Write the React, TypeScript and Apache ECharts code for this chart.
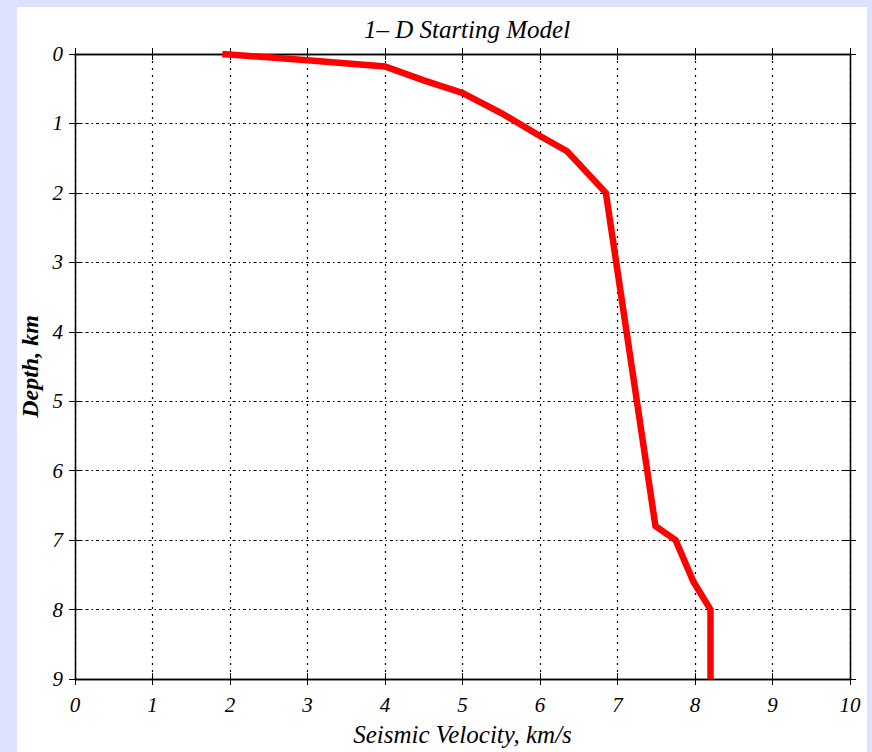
import React, { useEffect, useRef } from "react";
import * as echarts from "echarts";

const velocity = [1.9, 3.0, 4.0, 4.5, 5.0, 5.5, 6.0, 6.35, 6.85, 7.49, 7.75, 7.98, 8.2, 8.2];
const depth = [0.0, 0.09, 0.18, 0.38, 0.56, 0.85, 1.18, 1.4, 2.0, 6.8, 7.0, 7.6, 8.0, 9.0];
const xTicks = [0, 10];
const yTicks = [0, 9];
const titleText = "1\u2013 D Starting Model";
const xName = "Seismic Velocity, km/s";
const yName = "Depth, km";

const FONT = "'Liberation Serif', 'DejaVu Serif', serif";

export default function App() {
  const ref = useRef<HTMLDivElement>(null);
  useEffect(() => {
    if (!ref.current) return;
    const chart = echarts.init(ref.current, null, { renderer: "svg" });
    const labelStyle = {
      fontFamily: FONT,
      fontStyle: "italic",
      fontWeight: "normal",
      fontSize: 21,
      color: "#000",
    };
    const tickLine = { lineStyle: { color: "#000", width: 1 } };
    const baseX = (pos: string, inside: boolean, showLabel: boolean, extra: any = {}) => ({
      type: "value",
      gridIndex: 0,
      position: pos,
      min: xTicks[0],
      max: xTicks[1],
      interval: 1,
      axisLine: { show: true, onZero: false, lineStyle: { color: "#000", width: 1.3 } },
      axisTick: { show: true, inside, length: 6, ...tickLine },
      axisLabel: showLabel
        ? { show: true, margin: 15, ...labelStyle }
        : { show: false },
      splitLine: { show: false },
      ...extra,
    });
    const baseY = (pos: string, inside: boolean, showLabel: boolean, extra: any = {}) => ({
      type: "value",
      gridIndex: 0,
      position: pos,
      inverse: true,
      min: yTicks[0],
      max: yTicks[1],
      interval: 1,
      axisLine: { show: true, onZero: false, lineStyle: { color: "#000", width: 1.3 } },
      axisTick: { show: true, inside, length: 6, ...tickLine },
      axisLabel: showLabel
        ? { show: true, margin: 12, ...labelStyle }
        : { show: false },
      splitLine: { show: false },
      ...extra,
    });
    const option: any = {
      animation: false,
      backgroundColor: "#dce2ff",
      graphic: [
        {
          type: "rect",
          z: -10,
          silent: true,
          shape: { x: 17, y: 7, width: 850, height: 760 },
          style: { fill: "#ffffff" },
        },
      ],
      title: {
        text: titleText,
        left: 462,
        top: 12,
        textAlign: "center",
        textStyle: {
          fontFamily: FONT,
          fontStyle: "italic",
          fontWeight: "normal",
          fontSize: 25,
          color: "#000",
        },
      },
      grid: { left: 75, right: 22, top: 54, bottom: 73, containLabel: false },
      xAxis: [
        baseX("bottom", false, true, {
          name: xName,
          nameLocation: "middle",
          nameGap: 43,
          nameTextStyle: {
            fontFamily: FONT,
            fontStyle: "italic",
            fontWeight: "normal",
            fontSize: 25,
            color: "#000",
          },
          splitLine: {
            show: true,
            lineStyle: { color: "#000", width: 1.2, type: [2, 5] },
          },
        }),
        baseX("bottom", true, false),
        baseX("top", false, false),
        baseX("top", true, false),
      ],
      yAxis: [
        baseY("left", false, true, {
          name: yName,
          nameLocation: "middle",
          nameGap: 30,
          nameRotate: 90,
          nameTextStyle: {
            fontFamily: FONT,
            fontStyle: "italic",
            fontWeight: "bold",
            fontSize: 24,
            color: "#000",
          },
          splitLine: {
            show: true,
            lineStyle: { color: "#000", width: 1.2, type: [3, 3, 1.5, 3] },
          },
        }),
        baseY("left", true, false),
        baseY("right", false, false),
        baseY("right", true, false),
      ],
      series: [
        {
          type: "line",
          xAxisIndex: 0,
          yAxisIndex: 0,
          data: velocity.map((v, i) => [v, depth[i]]),
          showSymbol: false,
          symbol: "none",
          lineStyle: { color: "#ff0000", width: 6.5, join: "miter" },
          z: 5,
        },
      ],
    };
    chart.setOption(option);
    return () => chart.dispose();
  }, []);
  return (
    <div style={{ position: "fixed", left: 0, top: 0, width: 872, height: 752 }}>
      <div ref={ref} style={{ width: 872, height: 752 }} />
    </div>
  );
}
